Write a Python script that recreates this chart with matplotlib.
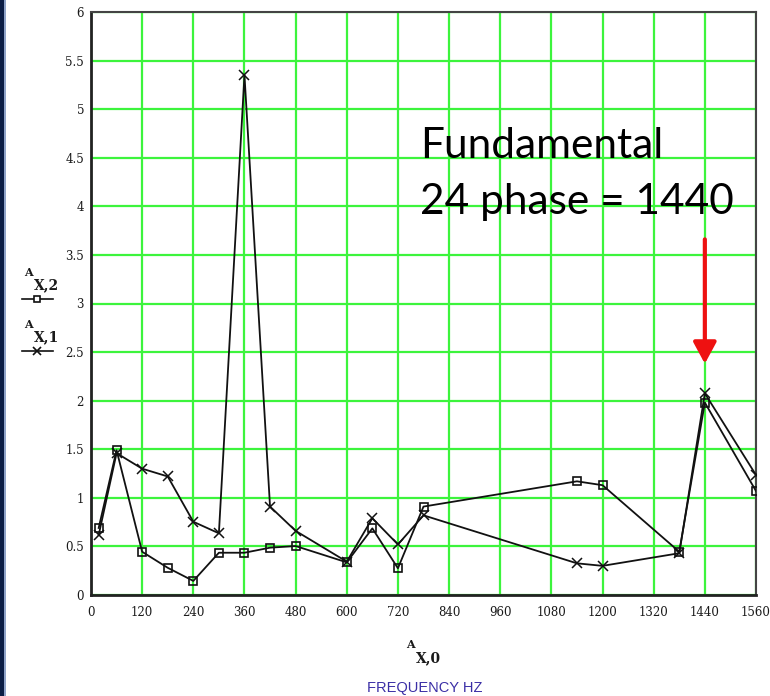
import numpy as np
import matplotlib.pyplot as plt
from matplotlib.patches import Rectangle

# data
freq = [18, 60, 120, 180, 240, 300, 360, 420, 480, 600, 660, 720, 780,
        1140, 1200, 1380, 1440, 1560]
a_x2 = [0.69, 1.49, 0.445, 0.28, 0.145, 0.435, 0.435, 0.487, 0.504, 0.336,
        0.686, 0.275, 0.91, 1.17, 1.13, 0.445, 1.98, 1.07]
a_x1 = [0.617, 1.46, 1.30, 1.22, 0.754, 0.635, 5.35, 0.91, 0.66, 0.343,
        0.79, 0.52, 0.82, 0.326, 0.30, 0.43, 2.075, 1.235]

x_ticks = np.arange(0, 1561, 120)
y_ticks = np.arange(0, 6.01, 0.5)
y_labels = ['0', '0.5', '1', '1.5', '2', '2.5', '3', '3.5', '4', '4.5',
            '5', '5.5', '6']

W, H = 770, 696


def px(x, y):
    # pixel position (from top-left) -> figure fraction
    return x / W, 1 - y / H


fig = plt.figure(figsize=(7.7, 6.96), dpi=100)
fig.patch.set_facecolor('white')

# dark strip on the left edge of the slide
fig.patches.append(Rectangle((0, 0), 4 / W, 1, transform=fig.transFigure,
                             facecolor='#0b1d44', edgecolor='none'))
fig.patches.append(Rectangle((4 / W, 0), 1.5 / W, 1, transform=fig.transFigure,
                             facecolor='#8fa3c8', edgecolor='none'))

ax = fig.add_axes([91 / W, 101 / H, 665 / W, 583 / H])
ax.set_xlim(0, 1560)
ax.set_ylim(0, 6)

ax.set_xticks(x_ticks)
ax.set_xticklabels([str(v) for v in x_ticks])
ax.set_yticks(y_ticks)
ax.set_yticklabels(y_labels)
ax.tick_params(length=0, labelsize=8.5, colors='#1a1a1a', pad=8)
for lab in ax.get_xticklabels() + ax.get_yticklabels():
    lab.set_family('DejaVu Serif')
ax.tick_params(axis='y', pad=5)

ax.grid(True, color='#3cf43c', linewidth=1.6)
ax.set_axisbelow(True)
for side in ['left', 'bottom']:
    ax.spines[side].set_linewidth(2.0)
    ax.spines[side].set_color('#222222')
for side in ['top', 'right']:
    ax.spines[side].set_linewidth(1.5)
    ax.spines[side].set_color('#444444')

ax.plot(freq, a_x1, color='#111111', linewidth=1.3, marker='x',
        markersize=7, markeredgewidth=1.1, zorder=3)
ax.plot(freq, a_x2, color='#111111', linewidth=1.3, marker='s',
        markersize=5.5, markerfacecolor='none', markeredgewidth=1.2, zorder=4)

# annotation
fig.text(*px(420, 158), 'Fundamental', fontsize=30.5, family='Lato',
         color='black', va='baseline', ha='left')
fig.text(*px(420, 214), '24 phase = 1440', fontsize=30.5, family='Lato',
         color='black', va='baseline', ha='left')
ax.annotate('', xy=(1440, 2.38), xytext=(1440, 3.66),
            arrowprops=dict(arrowstyle='-|>,head_length=1.3,head_width=0.7',
                            color='#ee1111', lw=3.0, shrinkA=0, shrinkB=0))

# legend-like labels on the left
fig.text(*px(28, 273), 'A', fontsize=8, family='DejaVu Serif',
         weight='bold', color='#1a1a1a', va='center', ha='center')
fig.text(*px(34, 285), 'X,2', fontsize=10, family='DejaVu Serif',
         weight='bold', color='#1a1a1a', va='center', ha='left')
fig.add_artist(plt.Line2D([22 / W, 53 / W], [1 - 299 / H, 1 - 299 / H],
                          color='#111111', lw=1.2))
fig.add_artist(plt.Line2D([37 / W], [1 - 299 / H], color='#111111',
                          marker='s', markersize=5, markerfacecolor='white',
                          markeredgewidth=1.2, linestyle='none'))
fig.text(*px(28, 325), 'A', fontsize=8, family='DejaVu Serif',
         weight='bold', color='#1a1a1a', va='center', ha='center')
fig.text(*px(34, 337), 'X,1', fontsize=10, family='DejaVu Serif',
         weight='bold', color='#1a1a1a', va='center', ha='left')
fig.add_artist(plt.Line2D([22 / W, 53 / W], [1 - 351 / H, 1 - 351 / H],
                          color='#111111', lw=1.2))
fig.add_artist(plt.Line2D([37 / W], [1 - 351 / H], color='#111111',
                          marker='x', markersize=6, markeredgewidth=1.2,
                          linestyle='none'))

# x axis labels
fig.text(*px(410, 645), 'A', fontsize=8, family='DejaVu Serif',
         weight='bold', color='#1a1a1a', va='center', ha='center')
fig.text(*px(416, 658), 'X,0', fontsize=10, family='DejaVu Serif',
         weight='bold', color='#1a1a1a', va='center', ha='left')
fig.text(*px(425, 688), 'FREQUENCY HZ', fontsize=10.5,
         family='Liberation Sans', color='#3b2fa6', va='center', ha='center')

fig.savefig('out.png', dpi=100)
